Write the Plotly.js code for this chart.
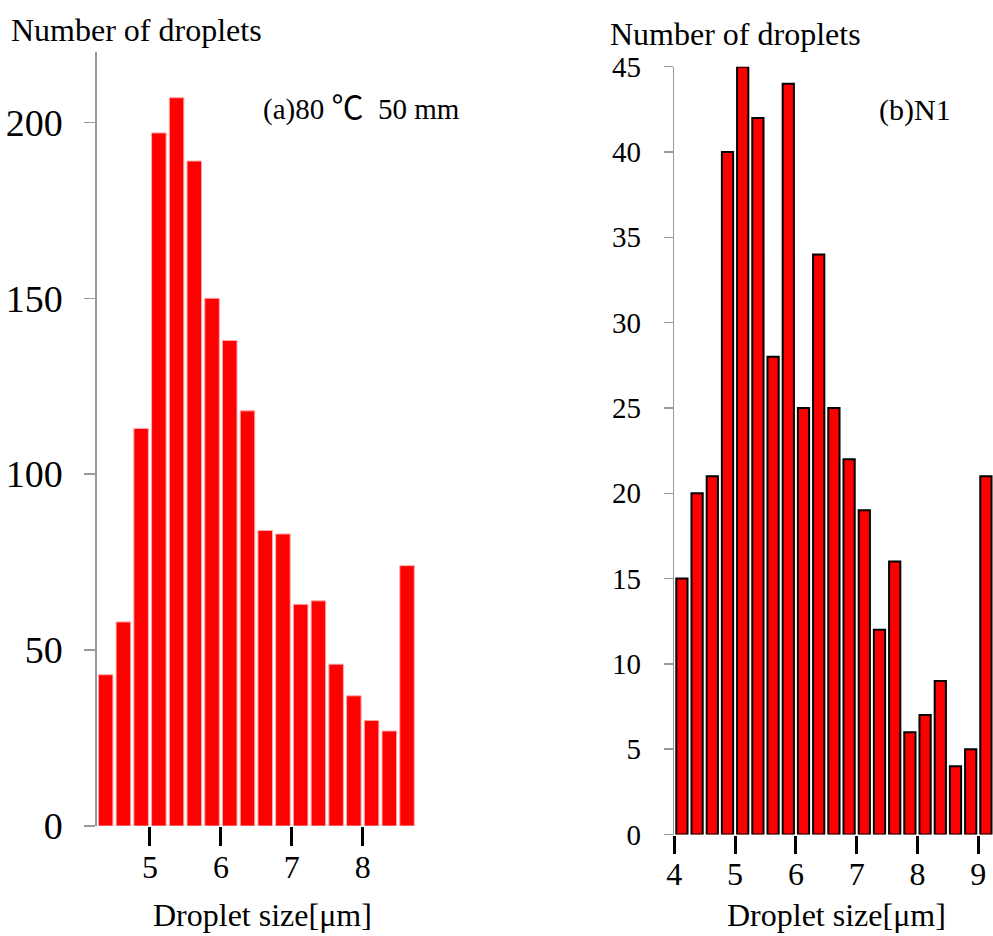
<!DOCTYPE html>
<html>
<head>
<meta charset="utf-8">
<script src="https://cdn.plot.ly/plotly-3.0.1.min.js"></script>
<style>html,body{margin:0;padding:0;background:#fff;}#chart{width:993px;height:936px;}</style>
</head>
<body>
<div id="chart"></div>
<script>
// Panel (a): 80 ℃ 50 mm — bin centres (µm) and counts
const sizeA = [4.375, 4.625, 4.875, 5.125, 5.375, 5.625, 5.875, 6.125, 6.375, 6.625, 6.875, 7.125, 7.375, 7.625, 7.875, 8.125, 8.375, 8.625];
const countA = [43, 58, 113, 197, 207, 189, 150, 138, 118, 84, 83, 63, 64, 46, 37, 30, 27, 74];

// Panel (b): N1 — bin centres (µm) and counts
const sizeB = [4.125, 4.375, 4.625, 4.875, 5.125, 5.375, 5.625, 5.875, 6.125, 6.375, 6.625, 6.875, 7.125, 7.375, 7.625, 7.875, 8.125, 8.375, 8.625, 8.875, 9.125];
const countB = [15, 20, 21, 40, 45, 42, 28, 44, 25, 34, 25, 22, 19, 12, 16, 6, 7, 9, 4, 5, 21];

const ticksAx = [5, 6, 7, 8];
const ticksAy = [0, 50, 100, 150, 200];
const ticksBx = [4, 5, 6, 7, 8, 9];
const ticksBy = [0, 5, 10, 15, 20, 25, 30, 35, 40, 45];

const yTitle = 'Number of droplets';
const xTitle = 'Droplet size[μm]';
const labelA = '(a)80 <span style="font-family:\'Noto Sans CJK JP\';font-size:32px">\u2103</span>\u00a0 50 mm';
const labelB = '(b)N1';

const W = 993, H = 936;
const px = v => v / W;
const py = v => 1 - v / H;
const FONT = '"Liberation Serif", "Times New Roman", serif';

const traces = [
  {type: 'bar', x: sizeA, y: countA, xaxis: 'x', yaxis: 'y', width: 0.205,
   marker: {color: '#ff0000', line: {color: 'rgba(255,170,170,1)', width: 1}}, hoverinfo: 'x+y'},
  {type: 'bar', x: sizeB, y: countB, xaxis: 'x2', yaxis: 'y2', width: 0.185,
   marker: {color: '#ff0000', line: {color: '#000000', width: 2}}, hoverinfo: 'x+y'}
];

const layout = {
  width: W, height: H,
  margin: {l: 0, r: 0, t: 0, b: 0},
  paper_bgcolor: '#ffffff', plot_bgcolor: 'rgba(0,0,0,0)',
  showlegend: false,
  font: {family: FONT, color: '#000'},
  xaxis: {domain: [px(96.8), px(415.9)], range: [4.25, 8.75], anchor: 'y',
    tickmode: 'array', tickvals: ticksAx, ticktext: ticksAx.map(String),
    ticks: 'outside', ticklen: 19, tickwidth: 3, tickcolor: '#000',
    showline: false, showgrid: false, zeroline: false,
    tickfont: {family: FONT, size: 32, color: '#000'}, ticklabelstandoff: -6, fixedrange: true},
  yaxis: {domain: [py(826), py(52)], range: [0, 220], anchor: 'x',
    tickmode: 'array', tickvals: ticksAy, ticktext: ticksAy.map(String),
    ticks: 'outside', ticklen: 11, tickwidth: 1.5, tickcolor: '#999',
    showline: true, linecolor: '#999', linewidth: 1.5,
    showgrid: false, zeroline: false,
    tickfont: {family: FONT, size: 38, color: '#000'}, ticklabelstandoff: 14, fixedrange: true},
  xaxis2: {domain: [px(674.3), 1], range: [4, 4 + (993 - 674.3) / 60.8], anchor: 'y2',
    tickmode: 'array', tickvals: ticksBx, ticktext: ticksBx.map(String),
    ticks: 'outside', ticklen: 18, tickwidth: 3, tickcolor: '#000',
    showline: false, showgrid: false, zeroline: false,
    tickfont: {family: FONT, size: 32, color: '#000'}, ticklabelstandoff: -7, fixedrange: true},
  yaxis2: {domain: [py(834.5), py(66.7)], range: [0, 45], anchor: 'x2',
    tickmode: 'array', tickvals: ticksBy, ticktext: ticksBy.map(String),
    ticks: 'outside', ticklen: 9, tickwidth: 1.5, tickcolor: '#999',
    showline: true, linecolor: '#999', linewidth: 1.5,
    showgrid: false, zeroline: false,
    tickfont: {family: FONT, size: 29, color: '#000'}, ticklabelstandoff: 17, fixedrange: true},
  annotations: [
    {text: yTitle, xref: 'paper', yref: 'paper', x: px(9), y: py(30), xanchor: 'left', yanchor: 'middle',
     showarrow: false, font: {family: FONT, size: 32, color: '#000'}},
    {text: yTitle, xref: 'paper', yref: 'paper', x: px(608), y: py(34), xanchor: 'left', yanchor: 'middle',
     showarrow: false, font: {family: FONT, size: 32, color: '#000'}},
    {text: xTitle, xref: 'paper', yref: 'paper', x: px(262), y: py(915), xanchor: 'center', yanchor: 'middle',
     showarrow: false, font: {family: FONT, size: 32, color: '#000'}},
    {text: xTitle, xref: 'paper', yref: 'paper', x: px(836), y: py(915), xanchor: 'center', yanchor: 'middle',
     showarrow: false, font: {family: FONT, size: 32, color: '#000'}},
    {text: labelA, xref: 'paper', yref: 'paper', x: px(261), y: py(105), xanchor: 'left', yanchor: 'middle',
     showarrow: false, font: {family: FONT, size: 29, color: '#000'}},
    {text: labelB, xref: 'paper', yref: 'paper', x: px(877), y: py(110), xanchor: 'left', yanchor: 'middle',
     showarrow: false, font: {family: FONT, size: 30, color: '#000'}}
  ]
};

Plotly.newPlot('chart', traces, layout, {displayModeBar: false, staticPlot: true});
</script>
</body>
</html>
